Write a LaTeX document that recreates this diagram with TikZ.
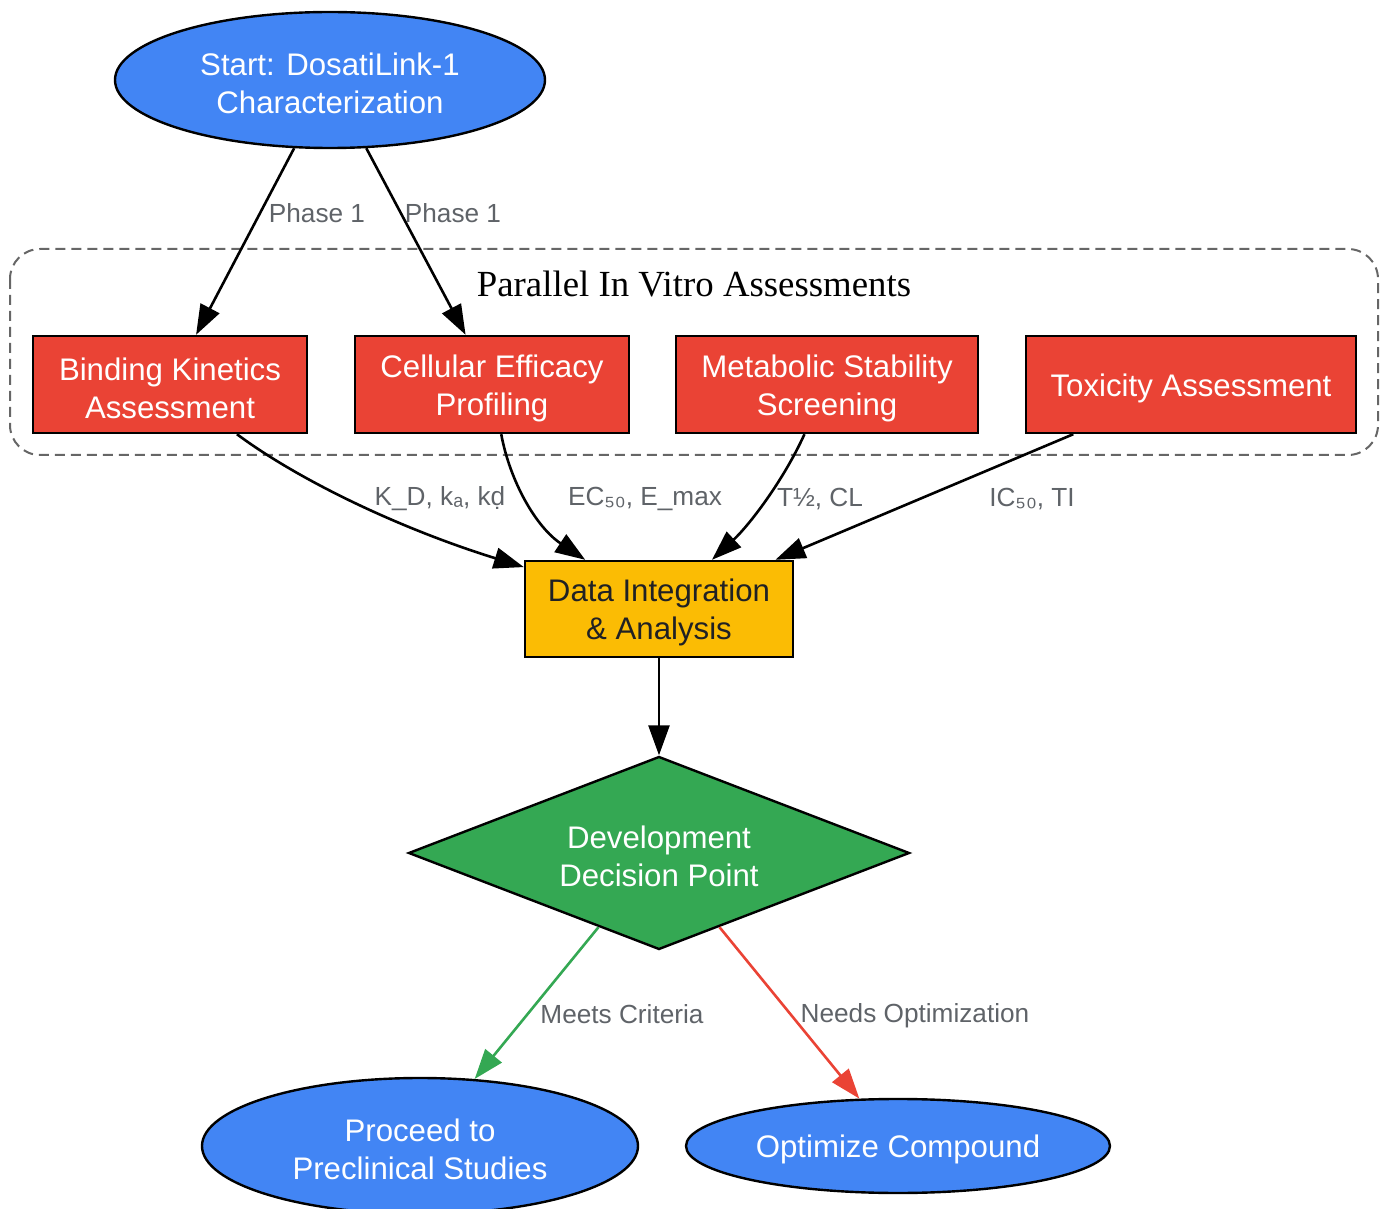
\documentclass[tikz,border=0pt]{standalone}
\usepackage{fontspec}
\setmainfont{Liberation Sans}
\newfontfamily\titlefont{Liberation Serif}
\usetikzlibrary{shapes.geometric,arrows.meta}
\definecolor{gblue}{HTML}{4285F4}
\definecolor{gred}{HTML}{EA4335}
\definecolor{gyellow}{HTML}{FBBC04}
\definecolor{ggreen}{HTML}{34A853}
\definecolor{glabel}{HTML}{5F6368}
\definecolor{gframe}{HTML}{666666}
\definecolor{gdark}{HTML}{202124}
\newcommand{\topstrut}{\rule{0pt}{15pt}}

\begin{document}
\begin{tikzpicture}[x=0.5pt,y=-0.5pt,
  txt/.style={draw=black,line width=1.2pt,text=white,align=center,inner sep=0pt,
    font=\fontsize{15.6}{19}\selectfont},
  box/.style={txt,fill=gred,minimum height=48.5pt},
  oval/.style={txt,ellipse,fill=gblue},
  edge/.style={line width=1.3pt,-{Triangle[length=15pt,width=10.5pt]}},
  elabel/.style={text=glabel,inner sep=0pt,font=\fontsize{13.1}{16}\selectfont}]
  \useasboundingbox (0,0) rectangle (1389,1209);
  % cluster frame
  \draw[gframe,line width=1pt,dash pattern=on 5pt off 3pt,rounded corners=15pt]
    (10,249) rectangle (1378,455);
  \node[font=\titlefont\fontsize{18.4}{22}\selectfont] (ctitle) at (694,284) {Parallel In Vitro Assessments};
  % nodes
  \node[oval,minimum width=215pt,minimum height=68pt] (start) at (330,80) {\topstrut Start: DosatiLink-1\\Characterization};
  \node[box,minimum width=137pt] (bind) at (170,384.5) {\topstrut Binding Kinetics\\Assessment};
  \node[box,minimum width=137pt] (cell) at (492,384.5) {\topstrut Cellular Efficacy\\Profiling};
  \node[box,minimum width=151pt] (meta) at (827,384.5) {\topstrut Metabolic Stability\\Screening};
  \node[box,minimum width=165pt] (tox) at (1191,384.5) {\topstrut Toxicity Assessment};
  \node[box,fill=gyellow,text=gdark,minimum width=134pt,minimum height=48pt] (data) at (659,609) {\topstrut Data Integration\\\& Analysis};
  \node[txt,diamond,fill=ggreen,aspect=2.6,minimum width=250.5pt,minimum height=96.5pt] (dec) at (659,853) {\topstrut Development\\Decision Point};
  \node[oval,minimum width=218pt,minimum height=68pt] (pre) at (420,1146) {\topstrut Proceed to\\Preclinical Studies};
  \node[oval,minimum width=212pt,minimum height=47pt] (opt) at (898,1146) {\topstrut Optimize Compound};
  % connectors
  \draw[edge] (start) -- (bind);
  \draw[edge] (start) -- (cell);
  \node[elabel] (l1) at (317,213) {Phase 1};
  \node[elabel] (l2) at (453,213) {Phase 1};
  \draw[edge] (bind) .. controls (300,481) and (401,529) .. (data);
  \draw[edge] (cell) .. controls (510,481.5) and (536,527) .. (data);
  \draw[edge] (meta) .. controls (783,481.5) and (748.6,525.8) .. (data);
  \draw[edge] (tox) -- (data);
  \node[elabel] (l3) at (440,499) {K\_D, kₐ, kḍ};
  \node[elabel] (l4) at (645,499) {EC₅₀, E\_max};
  \node[elabel] (l5) at (820,499) {T½, CL};
  \node[elabel] (l6) at (1032,499) {IC₅₀, TI};
  \draw[edge] (data) -- (dec);
  \draw[edge,ggreen] (dec) -- (pre);
  \draw[edge,gred] (dec) -- (opt);
  \node[elabel] (l7) at (622,1014) {Meets Criteria};
  \node[elabel] (l8) at (915,1016) {Needs Optimization};
\end{tikzpicture}
\end{document}
